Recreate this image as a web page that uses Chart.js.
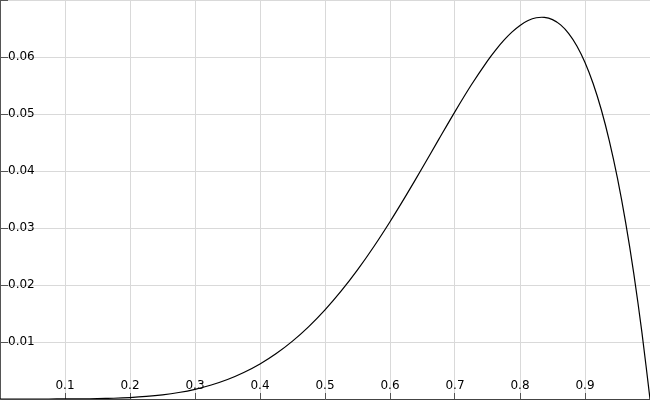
<!DOCTYPE html>
<html>
<head>
<meta charset="utf-8">
<script src="https://cdn.jsdelivr.net/npm/chart.js@4"></script>
<style>
  body { margin: 0; background: #fff; }
  canvas { display: block; }
</style>
</head>
<body>
<canvas id="myChart" width="650" height="400"></canvas>
<script>
// curve points
var xValues = [0, 0.025, 0.05, 0.075, 0.1, 0.125, 0.15, 0.175, 0.2, 0.225, 0.25, 0.275, 0.3,
  0.325, 0.35, 0.375, 0.4, 0.425, 0.45, 0.475, 0.5, 0.525, 0.55, 0.575, 0.6, 0.625, 0.65,
  0.675, 0.7, 0.725, 0.75, 0.7625, 0.775, 0.7875, 0.8, 0.8125, 0.825, 0.8375, 0.85, 0.8625,
  0.875, 0.8875, 0.9, 0.9125, 0.925, 0.9375, 0.95, 0.9625, 0.975, 0.9875, 1];
var yValues = [0, 0, 0, 0.0000022, 0.000009, 0.0000267, 0.0000645, 0.000135, 0.000256, 0.000447,
  0.000732, 0.00114, 0.0017, 0.00245, 0.00341, 0.00464, 0.00614, 0.00797, 0.01015, 0.0127,
  0.01563, 0.01895, 0.02265, 0.02671, 0.0311, 0.03576, 0.04061, 0.04554, 0.05042, 0.05508,
  0.05933, 0.06122, 0.06291, 0.06436, 0.06554, 0.06639, 0.06688, 0.06695, 0.06656, 0.06563,
  0.06411, 0.06194, 0.05905, 0.05536, 0.05079, 0.04526, 0.03869, 0.03098, 0.02203, 0.01174, 0];

var xTicks = ['0.1', '0.2', '0.3', '0.4', '0.5', '0.6', '0.7', '0.8', '0.9'];
var yTicks = ['0.01', '0.02', '0.03', '0.04', '0.05', '0.06'];

var points = [];
for (var i = 0; i < xValues.length; i++) {
  points.push({ x: xValues[i], y: yValues[i] });
}

// squash an axis to a thin line and drop its edge padding
function flatten(size) {
  return function (scale) {
    if (scale.isHorizontal()) {
      scale.height = size;
    } else {
      scale.width = size;
    }
    scale.paddingTop = 0;
    scale.paddingBottom = 0;
    scale.paddingLeft = 0;
    scale.paddingRight = 0;
  };
}

var graph = document.getElementById('myChart');

var myChart = new Chart(graph, {
  type: 'line',
  data: {
    datasets: [{
      data: points,
      borderColor: '#000',
      borderWidth: 1.2,
      pointRadius: 0,
      tension: 0.3,
      fill: false
    }]
  }, // ends data
  options: {
    responsive: false,
    animation: false,
    devicePixelRatio: 1,
    layout: { padding: 0 },
    plugins: {
      legend: { display: false },
      tooltip: { enabled: false }
    },
    scales: {
      x: {
        type: 'linear',
        position: 'bottom',
        min: 0,
        max: 1,
        afterFit: flatten(1),
        border: { color: '#444', width: 1 },
        grid: { color: '#d9d9d9', tickColor: '#555', tickLength: -6 },
        ticks: {
          stepSize: 0.1,
          mirror: true, // labels sit inside the plot, not clipped to the thin axis box
          padding: 6,
          maxRotation: 0,
          autoSkip: false,
          color: '#000',
          font: { family: 'DejaVu Sans', size: 12 },
          callback: function (v) {
            var s = v.toFixed(1);
            return xTicks.indexOf(s) >= 0 ? s : '';
          }
        }
      },
      y: {
        type: 'linear',
        position: 'left',
        min: 0,
        max: 0.07,
        afterFit: flatten(0),
        border: { color: '#555', width: 1 },
        grid: { color: '#d9d9d9', tickColor: '#555', tickLength: -8 },
        ticks: {
          stepSize: 0.01,
          mirror: true,
          padding: 8,
          color: '#000',
          font: { family: 'DejaVu Sans', size: 12 },
          callback: function (v) {
            var s = v.toFixed(2);
            return yTicks.indexOf(s) >= 0 ? s : '';
          }
        }
      }
    }
  }
}); // ends the entire variable
</script>
</body>
</html>
